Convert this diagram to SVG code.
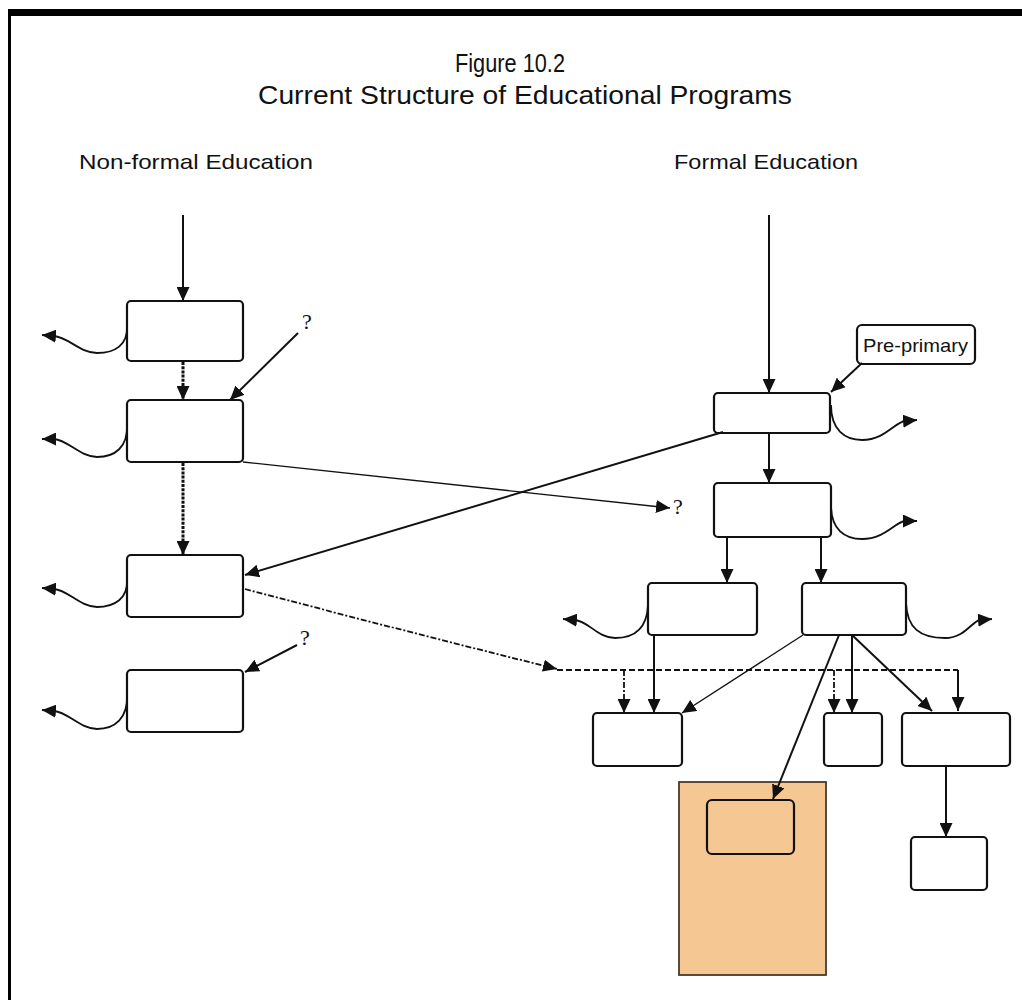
<svg xmlns="http://www.w3.org/2000/svg" width="1022" height="1000" viewBox="0 0 1022 1000">
<defs>
<marker id="ah" markerUnits="userSpaceOnUse" markerWidth="15" markerHeight="13" refX="14" refY="6.5" orient="auto"><path d="M0,0 L14,6.5 L0,13 z" fill="#111"/></marker>
<marker id="ahs" markerUnits="userSpaceOnUse" markerWidth="15" markerHeight="13" refX="14" refY="6.5" orient="auto"><path d="M0,0.5 L14,6.5 L0,12.5 z" fill="#111"/></marker>
<style>
.box{fill:#fff;stroke:#111;stroke-width:2.2}
.c{fill:none;stroke:#111;stroke-width:2}
.t{fill:none;stroke:#111;stroke-width:1.3}
.w{fill:none;stroke:#111;stroke-width:1.8}
.dot{fill:none;stroke:#111;stroke-width:3;stroke-dasharray:3 1.2}
.dash{fill:none;stroke:#111;stroke-width:1.8;stroke-dasharray:6 3}
.dd{fill:none;stroke:#111;stroke-width:1.8;stroke-dasharray:6 2 2 2}
.h{font-family:"Liberation Sans",Arial,sans-serif;fill:#111}
.q{font-family:"Liberation Serif","Times New Roman",serif;font-size:22px;fill:#111}
</style>
</defs>
<rect x="0" y="0" width="1022" height="1000" fill="#fff"/>
<rect x="8" y="9" width="1014" height="7" fill="#000"/>
<rect x="8" y="9" width="3" height="991" fill="#000"/>

<g id="titles">
<text class="h" x="510" y="72" font-size="25" text-anchor="middle" textLength="110" lengthAdjust="spacingAndGlyphs">Figure 10.2</text>
<text class="h" x="525" y="104" font-size="25" text-anchor="middle" textLength="534" lengthAdjust="spacingAndGlyphs">Current Structure of Educational Programs</text>
<text class="h" x="79" y="169" font-size="21" textLength="234" lengthAdjust="spacingAndGlyphs">Non-formal Education</text>
<text class="h" x="674" y="169" font-size="21" textLength="184" lengthAdjust="spacingAndGlyphs">Formal Education</text>
</g>

<g id="nodes">
<rect id="n1" class="box" x="127" y="301" width="116" height="60" rx="4"/>
<rect id="n2" class="box" x="127" y="400" width="116" height="62" rx="4"/>
<rect id="n3" class="box" x="127" y="555" width="116" height="62" rx="4"/>
<rect id="n4" class="box" x="127" y="670" width="116" height="62" rx="4"/>
<g id="preprimary">
<rect class="box" x="857" y="325" width="118" height="39" rx="5"/>
<text class="h" x="863" y="352" font-size="19" textLength="105" lengthAdjust="spacingAndGlyphs">Pre-primary</text>
</g>
<rect id="r1" class="box" x="714" y="393" width="116" height="40" rx="4"/>
<rect id="r2" class="box" x="714" y="483" width="117" height="54" rx="4"/>
<rect id="r3" class="box" x="648" y="583" width="109" height="52" rx="4"/>
<rect id="r4" class="box" x="802" y="583" width="104" height="52" rx="4"/>
<rect id="b1" class="box" x="593" y="713" width="89" height="53" rx="4"/>
<rect id="b2" class="box" x="824" y="713" width="58" height="53" rx="4"/>
<rect id="b3" class="box" x="902" y="713" width="108" height="53" rx="4"/>
<rect id="b4" class="box" x="911" y="837" width="76" height="53" rx="4"/>
<g id="orange">
<rect x="679" y="782" width="147" height="193" fill="#F4C793" stroke="#4a3a2a" stroke-width="1.8"/>
<rect x="707" y="800" width="87" height="54" rx="5" fill="none" stroke="#111" stroke-width="2.2"/>
</g>
</g>

<g id="labels">
<text class="q" x="302" y="329">?</text>
<text class="q" x="300" y="645">?</text>
<text class="q" x="673" y="514">?</text>
</g>

<g id="connectors">
<line class="c" x1="183" y1="215" x2="183" y2="301" marker-end="url(#ah)"/>
<line class="dot" x1="183" y1="362" x2="183" y2="400" marker-end="url(#ah)"/>
<line class="dot" x1="183" y1="463" x2="183" y2="555" marker-end="url(#ah)"/>
<line class="c" x1="298" y1="333" x2="230" y2="400" marker-end="url(#ah)"/>
<line class="c" x1="297" y1="645" x2="245" y2="672" marker-end="url(#ah)"/>
<path class="w" d="M127,326 C128,345 115,353 97,353 C80,353 68,337 54,336 L42,335" marker-end="url(#ah)"/>
<path class="w" d="M127,425 C128,447 115,457 97,457 C80,457 68,440 54,439 L42,439" marker-end="url(#ah)"/>
<path class="w" d="M127,580 C128,598 115,607 97,607 C80,607 68,590 54,589 L42,588" marker-end="url(#ah)"/>
<path class="w" d="M127,695 C128,718 115,729 97,729 C80,729 68,712 54,711 L42,710" marker-end="url(#ah)"/>
<line class="t" x1="243" y1="462" x2="670" y2="508" marker-end="url(#ah)"/>
<line class="c" x1="723" y1="432" x2="245" y2="575" marker-end="url(#ah)"/>
<path class="dd" d="M245,589 Q400,630 557,669" marker-end="url(#ahs)"/>
<line class="dash" x1="557" y1="670" x2="958" y2="670"/>
<line class="dd" x1="624" y1="670" x2="624" y2="713" marker-end="url(#ah)"/>
<line class="dd" x1="834" y1="670" x2="834" y2="713" marker-end="url(#ah)"/>
<line class="c" x1="958" y1="670" x2="958" y2="711" marker-end="url(#ah)"/>
<line class="c" x1="769" y1="215" x2="769" y2="393" marker-end="url(#ah)"/>
<line class="c" x1="862" y1="363" x2="831" y2="392" marker-end="url(#ah)"/>
<path class="w" d="M831,405 C831,430 845,440 862,440 C885,440 895,422 905,421 L917,420" marker-end="url(#ah)"/>
<line class="c" x1="769" y1="433" x2="769" y2="483" marker-end="url(#ah)"/>
<path class="w" d="M831,505 C831,530 845,539 862,539 C885,539 895,522 905,521 L917,521" marker-end="url(#ah)"/>
<line class="c" x1="727" y1="537" x2="727" y2="583" marker-end="url(#ah)"/>
<line class="c" x1="821" y1="537" x2="821" y2="583" marker-end="url(#ah)"/>
<path class="w" d="M648,605 C647,628 635,638 615,638 C598,638 588,621 575,620 L563,619" marker-end="url(#ah)"/>
<path class="w" d="M906,603 C907,628 920,638 945,638 C965,638 972,621 980,620 L992,619" marker-end="url(#ah)"/>
<line class="c" x1="654" y1="635" x2="654" y2="713" marker-end="url(#ah)"/>
<line class="t" x1="803" y1="635" x2="682" y2="713" marker-end="url(#ah)"/>
<line class="c" x1="839" y1="635" x2="773" y2="799" marker-end="url(#ah)"/>
<line class="c" x1="852" y1="635" x2="852" y2="713" marker-end="url(#ah)"/>
<line class="c" x1="852" y1="635" x2="932" y2="711" marker-end="url(#ah)"/>
<line class="c" x1="946" y1="766" x2="946" y2="837" marker-end="url(#ah)"/>
</g>
</svg>
